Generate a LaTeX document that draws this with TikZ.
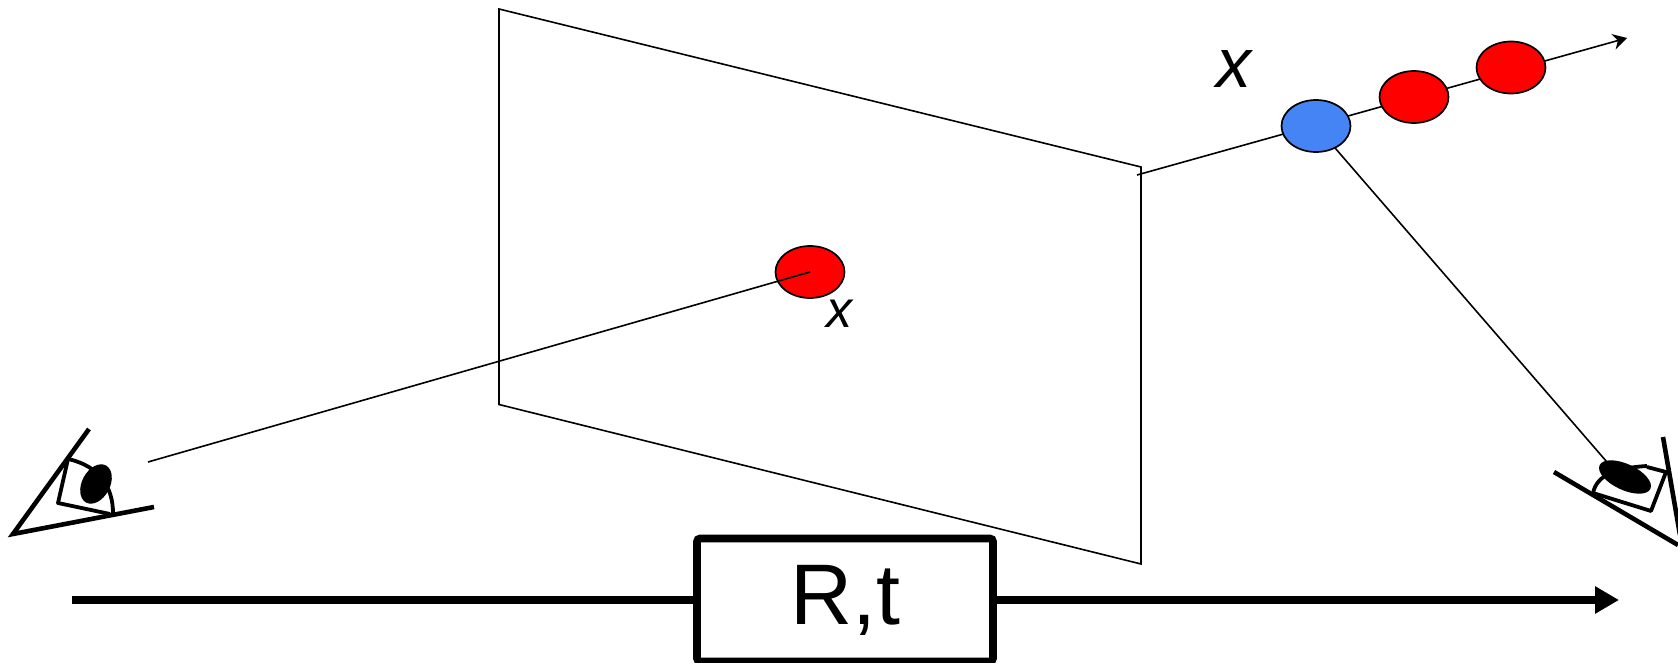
\documentclass[tikz,border=0pt]{standalone}
\usepackage{fontspec}
\setmainfont{Liberation Sans}
\usetikzlibrary{shapes.geometric,arrows.meta,backgrounds}
\definecolor{ptblue}{RGB}{68,132,244}
\tikzset{
  plane/.style={draw=black,line width=0.8pt,line join=miter},
  thin ray/.style={draw=black,line width=0.8pt},
  dot/.style={ellipse,draw=black,line width=0.85pt,inner sep=0pt,minimum width=34.5pt,minimum height=26pt},
  red dot/.style={dot,fill=red},
  blue dot/.style={dot,fill=ptblue},
  eye line/.style={draw=black,line width=2.3pt,line join=miter},
  eye lid/.style={draw=black,line width=1.9pt,line join=round},
  thick line/.style={draw=black,line width=3.8pt},
  rtbox/.style={draw=black,fill=white,line width=3.8pt,rounded corners=1.5pt,minimum width=148pt,minimum height=61.5pt,inner sep=0pt,font=\fontsize{43}{43}\selectfont},
  label/.style={inner sep=0pt,anchor=base west,font=\itshape}
}
\begin{document}
\begin{tikzpicture}[x=0.5pt,y=-0.5pt]
\useasboundingbox (0,0) rectangle (1678,663);
\clip (0,0) rectangle (1678,663);
% image plane
\draw[plane] (499,9) -- (1141,167) -- (1141,564) -- (499,404.5) -- cycle;
% points
\node[red dot] (imgpt) at (810,272) {};
\node[blue dot] (bluept) at (1316,126) {};
\node[red dot] (redone) at (1414,97) {};
\node[red dot] (redtwo) at (1511,67.5) {};
\coordinate (raystart) at (1137,175);
\coordinate (rayend) at (1627,38);
\coordinate (leftview) at (148,462);
\coordinate (rightview) at (1613,469);
\begin{scope}[on background layer]
  \draw[thin ray,-{Stealth[length=7pt,width=8pt]}] (raystart) -- (rayend);
  \draw[thin ray] (bluept.center) -- (rightview);
\end{scope}
\draw[thin ray] (leftview) -- (imgpt.center);
% labels
\node[label,font=\itshape\fontsize{35}{35}\selectfont] (bigx) at (1216,88) {x};
\node[label,font=\itshape\fontsize{26}{26}\selectfont] (smallx) at (826,328) {x};
% left eye
\draw[eye line] (89,429) -- (13,534) -- (154,507);
\draw[eye lid] (68,459) -- (58,503) -- (110,514);
\draw[eye lid] (68,459) .. controls (100,466) and (113,488) .. (113,513);
\fill[black,rotate around={62:(96,484)}] (96,484) ellipse (21 and 14);
% right eye
\draw[eye line] (1554,472) -- (1678,545);
\draw[eye line] (1663,437) -- (1680,535);
\draw[eye lid] (1593,493) -- (1651,511) -- (1666,472) -- (1647,467);
\draw[eye lid] (1593,493) .. controls (1597,475) and (1615,468) .. (1647,466);
\fill[black,rotate around={-25:(1625,477)}] (1625,477) ellipse (28 and 13);
% baseline
\node[rtbox] (rt) at (845,600) {\raisebox{-4.5pt}{R,t}};
\coordinate (linestart) at (72,600);
\coordinate (lineend) at (1619,600);
\draw[thick line] (linestart) -- (rt.west);
\draw[thick line,-{Triangle[length=12pt,width=13pt]}] (rt.east) -- (lineend);
\end{tikzpicture}
\end{document}
